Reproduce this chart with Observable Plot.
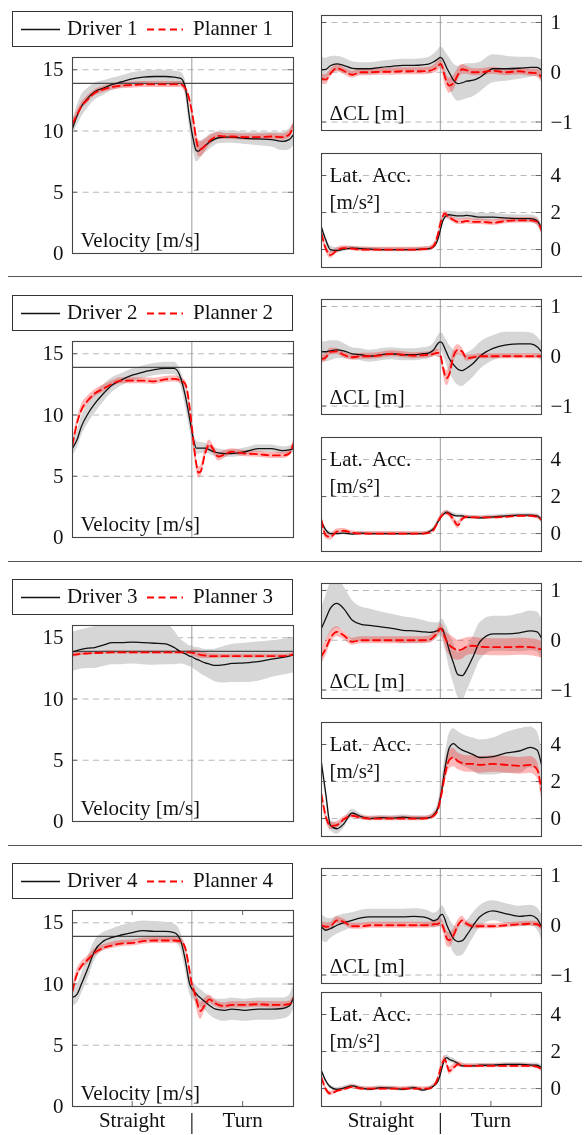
<!DOCTYPE html>
<html><head><meta charset="utf-8">
<script src="https://cdn.jsdelivr.net/npm/d3@7"></script>
<script src="https://cdn.jsdelivr.net/npm/@observablehq/plot@0.6"></script>
<style>
body{margin:0;background:#fff;}
#root{position:relative;width:584px;height:1135px;overflow:hidden;background:#fff;font-family:"Liberation Serif",serif;}
#root svg{will-change:transform;}
</style></head><body><div id="root"></div>
<script>
// ---------- data ----------
const X = [0,2,4,7,10, 14,18,22,27,32, 37,42,46,49,51, 53,54,55,56,57, 58,60,62,64,66, 69,72,78,84,90, 95,98,100];
const sectionTicks = [27, 54, 77];
const sectionLabels = ["Straight", "|", "Turn"];
const divider = 54;
const speedLimit = 13.89;
const velTicks = [0, 5, 10, 15];
const dclTicks = [-1, 0, 1];
const latTicks = [0, 2, 4];
const velDomain = [0, 16];
const dclDomain = [-1.17, 1.14];
const latDomain = [-0.97, 5.19];
const driverNames = ["Driver 1", "Driver 2", "Driver 3", "Driver 4"];
const plannerNames = ["Planner 1", "Planner 2", "Planner 3", "Planner 4"];
const velLabel = "Velocity [m/s]";
const dclLabel = "\u0394CL [m]";
const latLabel = "Lat.\u00a0 Acc.\n[m/s\u00b2]";

const driver1Vel = [10.2,11.2,12.0,12.7,13.2, 13.5,13.8,14.0,14.25,14.4, 14.45,14.45,14.4,14.3,13.6, 11.0,9.9,9.0,8.4,8.35, 8.5,8.8,9.1,9.3,9.45, 9.5,9.5,9.4,9.35,9.3, 9.15,9.3,9.7];
const driver1VelSd = [0.6,0.8,0.9,0.8,0.7, 0.6,0.5,0.5,0.5,0.5, 0.5,0.5,0.5,0.5,0.6, 0.8,0.9,0.9,0.9,0.8, 0.7,0.6,0.6,0.55,0.5, 0.5,0.5,0.5,0.55,0.6, 0.75,0.85,0.9];
const planner1Vel = [10.6,11.3,12.0,12.6,13.1, 13.4,13.6,13.7,13.75,13.8, 13.8,13.8,13.8,13.8,13.5, 12.5,11.6,10.5,9.3,8.6, 8.5,8.8,9.2,9.45,9.6, 9.55,9.55,9.5,9.5,9.55, 9.5,9.7,10.4];
const planner1VelSd = [0.3,0.3,0.3,0.3,0.25, 0.25,0.25,0.25,0.25,0.25, 0.25,0.25,0.25,0.25,0.3, 0.4,0.5,0.6,0.7,0.7, 0.6,0.5,0.4,0.3,0.3, 0.25,0.25,0.25,0.25,0.25, 0.25,0.3,0.35];
const driver1Dcl = [0.05,0.06,0.13,0.17,0.14, 0.08,0.07,0.07,0.1,0.12, 0.14,0.14,0.15,0.17,0.21, 0.27,0.3,0.27,0.18,0.08, 0,-0.16,-0.23,-0.21,-0.18, -0.16,-0.1,0.07,0.07,0.08, 0.1,0.1,0.04];
const driver1DclSd = [0.25,0.22,0.18,0.15,0.15, 0.13,0.12,0.12,0.12,0.12, 0.12,0.12,0.12,0.13,0.15, 0.18,0.2,0.22,0.25,0.28, 0.3,0.33,0.35,0.35,0.35, 0.33,0.3,0.28,0.25,0.22, 0.2,0.18,0.2];
const planner1Dcl = [-0.13,-0.15,-0.03,0.08,0.03, -0.05,0,0,0.01,0.01, 0.02,0.02,0.02,0.03,0.06, 0.12,0.17,0.1,-0.08,-0.2, -0.27,-0.22,-0.05,0.06,0.04, 0,0,0.03,0,0.02, -0.01,-0.02,-0.1];
const planner1DclSd = [0.1,0.1,0.08,0.07,0.07, 0.07,0.07,0.07,0.07,0.07, 0.07,0.07,0.07,0.07,0.08, 0.1,0.1,0.12,0.15,0.15, 0.15,0.15,0.12,0.1,0.08, 0.07,0.07,0.07,0.07,0.07, 0.07,0.08,0.1];
const driver1Lat = [1.2,0.5,0,-0.05,0.02, 0.08,0.05,0.02,0,0, 0,0,0.02,0.05,0.15, 0.6,1.05,1.5,1.75,1.85, 1.88,1.85,1.82,1.82,1.85, 1.8,1.75,1.75,1.7,1.67, 1.67,1.55,1.13];
const driver1LatSd = [0.2,0.2,0.2,0.15,0.12, 0.1,0.1,0.1,0.1,0.1, 0.1,0.1,0.1,0.1,0.12, 0.15,0.18,0.2,0.2,0.2, 0.2,0.2,0.2,0.2,0.2, 0.2,0.2,0.2,0.2,0.2, 0.2,0.22,0.25];
const planner1Lat = [0.85,0.05,-0.3,-0.05,0.08, 0.05,0,0,0,0, 0,0,0.02,0.05,0.2, 0.85,1.4,1.75,1.95,1.85, 1.75,1.6,1.5,1.5,1.55, 1.5,1.5,1.45,1.55,1.58, 1.58,1.5,1.05];
const planner1LatSd = [0.2,0.2,0.18,0.15,0.12, 0.12,0.12,0.12,0.12,0.12, 0.12,0.12,0.12,0.12,0.15, 0.15,0.15,0.15,0.15,0.15, 0.15,0.15,0.15,0.15,0.15, 0.15,0.15,0.15,0.15,0.15, 0.15,0.18,0.2];

const driver2Vel = [7.3,7.95,9.05,10.1,10.9, 11.75,12.45,12.85,13.25,13.5, 13.7,13.8,13.8,13.0,11.6, 9.7,8.7,7.8,7.3,7.3, 7.3,7.3,7.15,7.0,6.9, 6.85,6.85,7.0,7.25,7.25, 7.1,7.15,7.25];
const driver2VelSd = [0.6,0.7,0.8,0.8,0.8, 0.7,0.6,0.5,0.5,0.5, 0.5,0.5,0.5,0.6,0.8, 0.8,0.8,0.7,0.6,0.5, 0.45,0.4,0.35,0.35,0.35, 0.3,0.3,0.3,0.3,0.3, 0.3,0.3,0.35];
const planner2Vel = [7.55,9.3,10.4,11.2,11.75, 12.15,12.55,12.8,12.8,12.8, 12.75,12.9,12.95,12.8,12.55, 10.65,9.05,7.4,6.05,5.3, 5.4,6.85,7.6,7.1,6.6, 6.8,7.0,6.85,6.8,6.7, 6.7,6.85,7.65];
const planner2VelSd = [0.3,0.35,0.4,0.35,0.3, 0.3,0.25,0.25,0.25,0.25, 0.25,0.25,0.25,0.25,0.3, 0.4,0.45,0.5,0.5,0.45, 0.45,0.4,0.35,0.35,0.35, 0.3,0.25,0.25,0.25,0.25, 0.25,0.25,0.3];
const driver2Dcl = [0.09,0.09,0.11,0.13,0.11, 0.05,0.03,0,0.03,0.05, 0.03,0.03,0.05,0.07,0.13, 0.26,0.29,0.26,0.16,0.06, -0.04,-0.17,-0.26,-0.29,-0.24, -0.14,0,0.16,0.23,0.25, 0.25,0.19,0.09];
const driver2DclSd = [0.2,0.2,0.2,0.18,0.15, 0.12,0.12,0.12,0.12,0.12, 0.12,0.12,0.12,0.12,0.13, 0.15,0.17,0.2,0.22,0.25, 0.27,0.3,0.32,0.32,0.3, 0.28,0.27,0.25,0.25,0.23, 0.22,0.2,0.2];
const planner2Dcl = [-0.06,-0.02,0.09,0.1,0.03, -0.02,0,0,0.02,0.05, 0.03,0.01,0.02,0.03,0.05, 0.07,0.03,-0.17,-0.37,-0.44, -0.37,0,0.13,0.09,-0.04, -0.02,0,0,0,0, 0,0,0];
const planner2DclSd = [0.08,0.08,0.07,0.06,0.06, 0.06,0.06,0.06,0.06,0.06, 0.06,0.06,0.06,0.06,0.06, 0.07,0.08,0.1,0.13,0.15, 0.15,0.12,0.1,0.08,0.06, 0.05,0.05,0.05,0.05,0.05, 0.05,0.05,0.05];
const driver2Lat = [0.65,0.18,0,0,0.02, -0.03,0.02,0,0,0, 0,0,0,0.1,0.27, 0.64,0.82,1.0,1.1,1.15, 1.1,1.0,0.95,0.95,0.87, 0.87,0.85,0.9,0.96,1.0, 1.0,0.95,0.73];
const driver2LatSd = [0.15,0.12,0.1,0.08,0.08, 0.08,0.08,0.08,0.08,0.08, 0.08,0.08,0.08,0.08,0.1, 0.12,0.12,0.12,0.12,0.12, 0.12,0.12,0.1,0.1,0.1, 0.1,0.1,0.1,0.1,0.1, 0.1,0.12,0.15];
const planner2Lat = [0.73,-0.1,-0.18,0.1,0.15, 0.04,0,0,0,0, 0,0,0,0.05,0.2, 0.64,0.87,1.0,1.08,1.1, 1.05,0.75,0.45,0.8,0.9, 0.87,0.87,0.87,0.9,0.95, 0.95,0.9,0.76];
const planner2LatSd = [0.2,0.2,0.18,0.15,0.12, 0.1,0.1,0.1,0.1,0.1, 0.1,0.1,0.1,0.1,0.1, 0.12,0.12,0.12,0.12,0.12, 0.15,0.2,0.2,0.15,0.1, 0.08,0.08,0.08,0.08,0.08, 0.08,0.1,0.12];

const driver3Vel = [13.85,13.95,14.05,14.15,14.2, 14.4,14.6,14.6,14.65,14.6, 14.55,14.5,14.2,13.85,13.7, 13.5,13.45,13.35,13.25,13.2, 13.1,12.95,12.85,12.75,12.75, 12.8,12.9,12.95,13.05,13.25, 13.4,13.5,13.6];
const driver3VelSd = [1.6,1.6,1.6,1.65,1.7, 1.75,1.8,1.8,1.8,1.8, 1.8,1.7,1.4,1.0,0.9, 0.85,0.85,0.9,0.95,1.0, 1.05,1.1,1.2,1.3,1.4, 1.5,1.55,1.6,1.6,1.5, 1.45,1.45,1.45];
const planner3Vel = [13.6,13.65,13.7,13.72,13.75, 13.78,13.8,13.8,13.8,13.8, 13.8,13.8,13.8,13.8,13.8, 13.8,13.78,13.75,13.7,13.65, 13.6,13.55,13.5,13.5,13.5, 13.5,13.5,13.5,13.5,13.5, 13.5,13.55,13.65];
const planner3VelSd = [0.2,0.18,0.15,0.15,0.12, 0.12,0.12,0.12,0.12,0.12, 0.12,0.12,0.12,0.12,0.12, 0.15,0.2,0.25,0.3,0.3, 0.3,0.25,0.2,0.2,0.18, 0.15,0.15,0.15,0.15,0.15, 0.15,0.15,0.15];
const driver3Dcl = [0.24,0.44,0.64,0.74,0.64, 0.4,0.32,0.3,0.27,0.24, 0.2,0.19,0.17,0.16,0.17, 0.2,0.24,0.22,0.1,-0.03, -0.19,-0.46,-0.69,-0.71,-0.59, -0.32,-0.03,0.13,0.13,0.15, 0.19,0.17,0.04];
const driver3DclSd = [0.4,0.45,0.5,0.5,0.45, 0.4,0.35,0.33,0.3,0.28, 0.27,0.25,0.23,0.2,0.18, 0.15,0.15,0.2,0.25,0.3, 0.35,0.4,0.45,0.5,0.45, 0.4,0.38,0.35,0.35,0.38, 0.4,0.4,0.4];
const planner3Dcl = [-0.32,-0.16,0.04,0.17,0.1, -0.03,0,0,0,0, 0,0,0,0.01,0.07, 0.17,0.24,0.19,0.07,-0.03, -0.09,-0.16,-0.2,-0.18,-0.13, -0.11,-0.13,-0.14,-0.14,-0.13, -0.14,-0.16,-0.19];
const planner3DclSd = [0.15,0.15,0.13,0.1,0.08, 0.07,0.07,0.07,0.07,0.07, 0.07,0.07,0.07,0.07,0.08, 0.08,0.1,0.12,0.15,0.18, 0.2,0.22,0.2,0.2,0.18, 0.17,0.17,0.17,0.17,0.17, 0.17,0.17,0.17];
const driver3Lat = [3.0,1.3,-0.35,-0.55,-0.3, 0.3,0.1,0,0.05,0.02, 0.08,0.02,0.02,0.05,0.2, 0.6,1.1,1.8,2.6,3.3, 3.8,4.05,3.85,3.7,3.6, 3.45,3.3,3.35,3.55,3.65, 3.85,3.7,2.9];
const driver3LatSd = [0.3,0.3,0.3,0.3,0.25, 0.2,0.15,0.12,0.12,0.12, 0.12,0.12,0.12,0.12,0.15, 0.25,0.4,0.55,0.65,0.7, 0.75,0.8,0.85,0.85,0.85, 0.9,0.95,1.0,1.1,1.2, 1.1,1.0,0.9];
const planner3Lat = [1.3,0.1,-0.4,-0.35,-0.05, 0.15,0.05,0,0,0, 0,0,0,0.05,0.15, 0.5,1.0,1.6,2.3,2.8, 3.15,3.3,3.1,3.0,2.95, 2.95,2.9,2.95,2.9,2.85, 2.9,2.65,1.5];
const planner3LatSd = [0.3,0.25,0.2,0.18,0.15, 0.12,0.12,0.12,0.12,0.12, 0.12,0.12,0.12,0.12,0.15, 0.2,0.3,0.4,0.45,0.5, 0.5,0.5,0.45,0.45,0.45, 0.45,0.45,0.45,0.45,0.45, 0.45,0.45,0.45];

const driver4Vel = [8.9,9.15,9.97,11.3,12.7, 13.5,13.8,14.0,14.2,14.35, 14.3,14.3,14.2,13.5,12.0, 10.0,9.6,9.4,9.2,9.0, 8.85,8.55,8.25,8.0,7.9, 7.85,7.95,7.85,7.95,7.95, 8.0,8.2,8.9];
const driver4VelSd = [0.7,0.75,0.8,0.9,0.8, 0.7,0.7,0.75,0.8,0.8, 0.8,0.75,0.7,0.7,0.8, 0.8,0.75,0.7,0.7,0.7, 0.7,0.7,0.75,0.8,0.85, 0.9,0.9,0.9,0.9,0.9, 0.85,0.85,1.0];
const planner4Vel = [9.4,10.8,11.45,12.0,12.55, 12.95,13.15,13.3,13.35,13.5, 13.55,13.55,13.55,13.5,12.95, 11.05,9.97,9.43,8.75,8.1, 7.8,8.35,8.75,8.5,8.3, 8.2,8.3,8.3,8.35,8.3, 8.3,8.35,8.75];
const planner4VelSd = [0.4,0.4,0.35,0.3,0.3, 0.25,0.25,0.25,0.25,0.25, 0.25,0.25,0.25,0.25,0.3, 0.35,0.4,0.5,0.6,0.7, 0.7,0.5,0.35,0.3,0.25, 0.25,0.25,0.25,0.25,0.25, 0.25,0.25,0.3];
const driver4Dcl = [-0.03,-0.1,-0.07,0,0.05, 0.1,0.15,0.17,0.17,0.17, 0.17,0.18,0.17,0.13,0.09, 0.13,0.2,0.22,0.13,0, -0.1,-0.27,-0.33,-0.31,-0.2, 0,0.17,0.29,0.23,0.18, 0.2,0.13,-0.03];
const driver4DclSd = [0.25,0.25,0.2,0.18,0.17, 0.15,0.15,0.15,0.15,0.15, 0.15,0.15,0.15,0.15,0.15, 0.15,0.15,0.17,0.2,0.22, 0.25,0.27,0.3,0.3,0.28, 0.25,0.22,0.2,0.2,0.2, 0.2,0.22,0.25];
const planner4Dcl = [0,-0.03,-0.02,0.1,0.07, -0.02,-0.02,0,0,0, 0,0,0,0,0.02, 0.03,0.05,0,-0.13,-0.27, -0.3,-0.2,0,0.1,0.03, -0.02,-0.02,-0.02,0,0.02, 0.03,0.02,-0.05];
const planner4DclSd = [0.08,0.08,0.07,0.07,0.06, 0.06,0.06,0.06,0.06,0.06, 0.06,0.06,0.06,0.06,0.06, 0.07,0.08,0.1,0.12,0.15, 0.15,0.12,0.1,0.08,0.06, 0.05,0.05,0.05,0.05,0.05, 0.05,0.05,0.06];
const driver4Lat = [0.95,0.41,0.09,-0.04,0.02, 0.14,0.02,-0.04,0.05,0.02, -0.04,0.05,-0.09,0.02,0.14, 0.41,0.77,1.22,1.58,1.67, 1.58,1.49,1.35,1.22,1.22, 1.22,1.26,1.26,1.31,1.31, 1.27,1.26,1.13];
const driver4LatSd = [0.15,0.12,0.1,0.1,0.1, 0.1,0.1,0.1,0.1,0.1, 0.1,0.1,0.1,0.1,0.1, 0.12,0.15,0.15,0.15,0.15, 0.15,0.15,0.12,0.1,0.1, 0.1,0.1,0.1,0.1,0.1, 0.1,0.12,0.15];
const planner4Lat = [0.6,-0.04,-0.27,-0.13,-0.04, 0.09,0,0,0,0, 0,0,0,0,0.14, 0.6,1.04,1.4,1.58,1.31, 0.95,1.13,1.31,1.26,1.22, 1.22,1.22,1.22,1.22,1.22, 1.22,1.17,1.04];
const planner4LatSd = [0.15,0.15,0.12,0.1,0.1, 0.1,0.1,0.1,0.1,0.1, 0.1,0.1,0.1,0.1,0.1, 0.12,0.15,0.18,0.2,0.2, 0.2,0.18,0.15,0.12,0.1, 0.1,0.1,0.1,0.1,0.1, 0.1,0.1,0.12];

// ---------- layout ----------
const FONT = '"Liberation Serif", serif';
const FS = 21;
const velTop = [57, 341, 625, 910], dclTop = [15, 299, 583, 868], latTop = [153, 437, 722, 992];
const legTop = [11, 295, 579, 863], sepTop = [276, 561, 845];
const root = document.getElementById("root");
const fmt = d => d < 0 ? "\u2212" + Math.abs(d) : String(d);
const curve = "monotone-x";
const xDomain = [X[0], X[X.length - 1]];

function panel(o) {
  const {fw, fh, ml, mr, mt, mb, domain, ticks, anchor, label, labelTop, d, ds, p, ps, limit, xAxis} = o;
  const rows = X.map((x, i) => ({x, d: d[i], dlo: d[i] - ds[i], dhi: d[i] + ds[i], p: p[i], plo: p[i] - ps[i], phi: p[i] + ps[i]}));
  const [y0, y1] = domain;
  const tx = (xDomain[1] - xDomain[0]) * 5 / fw, ty = (y1 - y0) * 5 / fh;
  const marks = [
    Plot.ruleY(ticks, {stroke: "#b0b0b0", strokeDasharray: "6,4.5", strokeWidth: 0.9}),
    Plot.ruleY(ticks, {x1: xDomain[0], x2: xDomain[0] + tx, stroke: "#555", strokeWidth: 0.9}),
    Plot.ruleY(ticks, {x1: xDomain[1] - tx, x2: xDomain[1], stroke: "#555", strokeWidth: 0.9}),
    Plot.areaY(rows, {x: "x", y1: "dlo", y2: "dhi", fill: "#d6d6d6", curve, clip: true}),
    Plot.areaY(rows, {x: "x", y1: "plo", y2: "phi", fill: "#ff0000", fillOpacity: 0.28, curve, clip: true}),
    Plot.ruleX([divider], {stroke: "#9a9a9a", strokeWidth: 1})
  ];
  if (limit != null) marks.push(Plot.ruleY([limit], {stroke: "#4a4a4a", strokeWidth: 1.2}));
  marks.push(
    Plot.lineY(rows, {x: "x", y: "d", stroke: "#111", strokeWidth: 1.3, curve, clip: true}),
    Plot.lineY(rows, {x: "x", y: "p", stroke: "#ff0000", strokeWidth: 1.8, strokeDasharray: "7,4.5", curve, clip: true}),
    Plot.frame({stroke: "#444", strokeWidth: 1.1}),
    Plot.axisY({ticks, anchor, tickSize: 0, tickPadding: 9, tickFormat: fmt, label: null, fill: "#111"})
  );
  if (labelTop) {
    marks.push(Plot.text([label], {frameAnchor: "top-left", textAnchor: "start", lineAnchor: "top", dx: 8, dy: 9, lineHeight: 1.3, fill: "#111"}));
  } else {
    marks.push(Plot.text([label], {frameAnchor: "bottom-left", textAnchor: "start", lineAnchor: "bottom", dx: 8, dy: o.ldy, fill: "#111"}));
  }
  if (xAxis) {
    marks.push(
      Plot.ruleX([sectionTicks[0], sectionTicks[2]], {y1: y0, y2: y0 + ty, stroke: "#555", strokeWidth: 0.9}),
      Plot.ruleX([sectionTicks[0], sectionTicks[2]], {y1: y1 - ty, y2: y1, stroke: "#555", strokeWidth: 0.9}),
      Plot.axisX({ticks: sectionTicks, tickFormat: d => sectionLabels[sectionTicks.indexOf(d)], tickSize: 0, tickPadding: 6, label: null, fill: "#111"})
    );
  }
  const svg = Plot.plot({
    width: ml + fw + mr, height: mt + fh + mb,
    marginLeft: ml, marginRight: mr, marginTop: mt, marginBottom: mb,
    x: xAxis ? {domain: xDomain} : {domain: xDomain, axis: null},
    y: {domain},
    style: {fontFamily: FONT, fontSize: FS + "px", background: "none", overflow: "visible", color: "#111"},
    marks
  });
  svg.querySelectorAll("text").forEach(t => {
    if (t.textContent === "|") t.setAttribute("font-size", FS * 1.12);
  });
  return svg;
}

function place(el, left, top) {
  el.style.position = "absolute"; el.style.left = left + "px"; el.style.top = top + "px";
  root.appendChild(el);
}

const series = [
  [driver1Vel, driver1VelSd, planner1Vel, planner1VelSd, driver1Dcl, driver1DclSd, planner1Dcl, planner1DclSd, driver1Lat, driver1LatSd, planner1Lat, planner1LatSd],
  [driver2Vel, driver2VelSd, planner2Vel, planner2VelSd, driver2Dcl, driver2DclSd, planner2Dcl, planner2DclSd, driver2Lat, driver2LatSd, planner2Lat, planner2LatSd],
  [driver3Vel, driver3VelSd, planner3Vel, planner3VelSd, driver3Dcl, driver3DclSd, planner3Dcl, planner3DclSd, driver3Lat, driver3LatSd, planner3Lat, planner3LatSd],
  [driver4Vel, driver4VelSd, planner4Vel, planner4VelSd, driver4Dcl, driver4DclSd, planner4Dcl, planner4DclSd, driver4Lat, driver4LatSd, planner4Lat, planner4LatSd]
];

series.forEach((s, r) => {
  const last = r === 3;
  const mt = 4;
  place(panel({fw: 221, fh: 196, ml: 72, mr: 7, mt, mb: last ? 28 : 4, domain: velDomain, ticks: velTicks, anchor: "left",
    label: velLabel, ldy: -7, d: s[0], ds: s[1], p: s[2], ps: s[3], limit: speedLimit, xAxis: last}), 0, velTop[r] - mt);
  place(panel({fw: 220, fh: 115, ml: 21, mr: 43, mt, mb: 4, domain: dclDomain, ticks: dclTicks, anchor: "right",
    label: dclLabel, ldy: -11, d: s[4], ds: s[5], p: s[6], ps: s[7], xAxis: false}), 300, dclTop[r] - mt);
  place(panel({fw: 220, fh: 114, ml: 21, mr: 43, mt, mb: last ? 28 : 4, domain: latDomain, ticks: latTicks, anchor: "right",
    label: latLabel, labelTop: true, d: s[8], ds: s[9], p: s[10], ps: s[11], xAxis: last}), 300, latTop[r] - mt);
  // legend box
  const leg = document.createElement("div");
  leg.style.cssText = "width:279px;height:34px;border:1px solid #333;background:#fff;";
  const NS = "http://www.w3.org/2000/svg";
  const svg = document.createElementNS(NS, "svg");
  svg.setAttribute("width", 279); svg.setAttribute("height", 34);
  svg.style.display = "block"; svg.style.fontFamily = FONT; svg.style.fontSize = FS + "px";
  const mk = (tag, attrs, txt) => { const e = document.createElementNS(NS, tag); for (const k in attrs) e.setAttribute(k, attrs[k]); if (txt) e.textContent = txt; svg.appendChild(e); };
  mk("line", {x1: 8, x2: 47, y1: 17.5, y2: 17.5, stroke: "#111", "stroke-width": 1.6});
  mk("text", {x: 54, y: 23, fill: "#111"}, driverNames[r]);
  mk("line", {x1: 134, x2: 170, y1: 17.5, y2: 17.5, stroke: "#ff0000", "stroke-width": 1.8, "stroke-dasharray": "7,4.5"});
  mk("text", {x: 180, y: 23, fill: "#111"}, plannerNames[r]);
  leg.appendChild(svg);
  place(leg, 12, legTop[r]);
});
sepTop.forEach(t => {
  const sep = document.createElement("div");
  sep.style.cssText = "width:574px;height:0;border-top:1.2px solid #555;";
  place(sep, 8, t);
});
</script></body></html>
